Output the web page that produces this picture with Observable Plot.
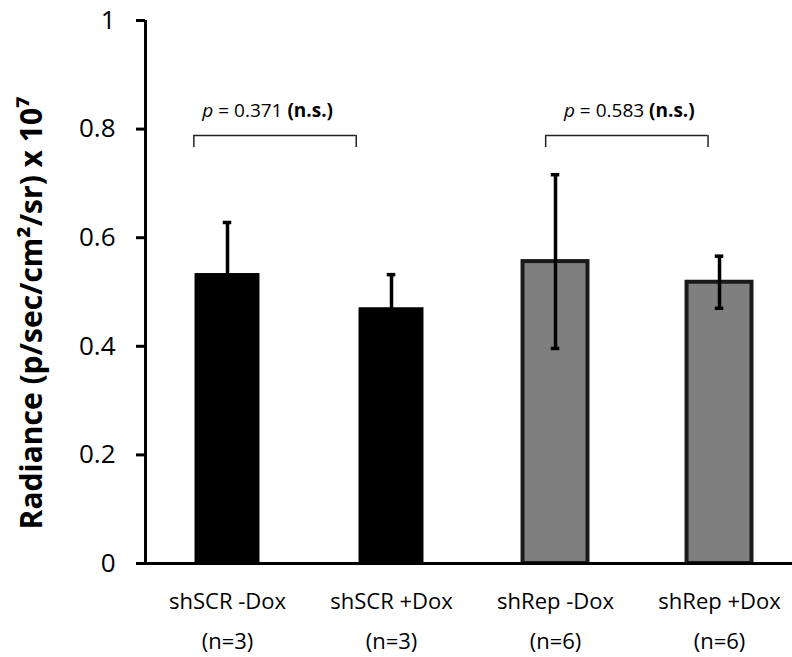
<!DOCTYPE html>
<html><head><meta charset="utf-8">
<script src="https://cdn.jsdelivr.net/npm/d3@7"></script>
<script src="https://cdn.jsdelivr.net/npm/@observablehq/plot@0.6"></script>
<style>body{margin:0;background:#fff}</style>
</head><body><div id="chart"></div>
<script>
// ---- data ----
const groups = ["shSCR -Dox", "shSCR +Dox", "shRep -Dox", "shRep +Dox"];
const sampleSizes = ["(n=3)", "(n=3)", "(n=6)", "(n=6)"];
const means = [0.534, 0.471, 0.556, 0.518];
const errors = [0.094, 0.061, 0.16, 0.048];
const fills = ["#000000", "#000000", "#7f7f7f", "#7f7f7f"];
const yTicks = [0, 0.2, 0.4, 0.6, 0.8, 1];
const pValues = ["0.371", "0.583"];
const significance = ["(n.s.)", "(n.s.)"];
const pairs = [[0, 1], [2, 3]];
const yTitle = "Radiance (p/sec/cm\u00B2/sr) x 10\u2077";

// ---- layout ----
const barHalf = 0.198, capHalf = 0.026;
const bracketEnds = [[-0.205, 0.785], [1.94, 2.93]];
const labelShift = [-0.045, 0.015];
const bracketY = 0.788, bracketDrop = 0.022, labelY = 0.834;

const table = groups.map((g, i) => ({i, g, n: sampleSizes[i], mean: means[i], err: errors[i], fill: fills[i]}));
const comps = pairs.map((p, k) => ({x1: bracketEnds[k][0], x2: bracketEnds[k][1], shift: labelShift[k], p: pValues[k], sig: significance[k]}));

const chart = Plot.plot({
  width: 792, height: 657,
  marginLeft: 145, marginRight: 0, marginTop: 20, marginBottom: 94,
  style: {fontFamily: "'Open Sans', sans-serif", color: "#000", background: "#fff"},
  x: {domain: [-0.5, 3.445]},
  y: {domain: [0, 1]},
  color: {type: "identity"},
  marks: [
    Plot.rectY(table.filter(d => d.fill === "#000000"), {x1: d => d.i - barHalf, x2: d => d.i + barHalf, y1: 0, y2: "mean", fill: "fill"}),
    Plot.rectY(table.filter(d => d.fill !== "#000000"), {x1: d => d.i - barHalf, x2: d => d.i + barHalf, y1: 0, y2: "mean", fill: "fill", stroke: "#1a1a1a", strokeWidth: 4}),
    Plot.ruleX(table, {x: "i", y1: d => d.mean - d.err, y2: d => d.mean + d.err, stroke: "#000", strokeWidth: 3.5}),
    Plot.ruleY(table, {x1: d => d.i - capHalf, x2: d => d.i + capHalf, y: d => d.mean + d.err, stroke: "#000", strokeWidth: 3.5}),
    Plot.ruleY(table, {x1: d => d.i - capHalf, x2: d => d.i + capHalf, y: d => d.mean - d.err, stroke: "#000", strokeWidth: 3.5}),
    // brackets
    Plot.ruleY(comps, {x1: "x1", x2: "x2", y: bracketY, stroke: "#222", strokeWidth: 1.5}),
    Plot.ruleX(comps, {x: "x1", y1: bracketY - bracketDrop, y2: bracketY, stroke: "#222", strokeWidth: 1.5}),
    Plot.ruleX(comps, {x: "x2", y1: bracketY - bracketDrop, y2: bracketY, stroke: "#222", strokeWidth: 1.5}),
    Plot.text(comps, {x: d => (d.x1 + d.x2) / 2 + d.shift, y: labelY, text: d => `p = ${d.p} ${d.sig}`, fontSize: 19, fill: "#000"}),
    // axes
    Plot.axisY({ticks: yTicks, tickSize: 9, tickPadding: 21, strokeWidth: 3, fontSize: 26, label: null, tickFormat: d => String(+d.toFixed(1))}),
    Plot.axisX({ticks: [0, 1, 2, 3], tickSize: 0, tickPadding: 17, tickFormat: i => groups[i] + "\n" + sampleSizes[i], fontSize: 22, lineHeight: 1.82, label: null}),
    Plot.ruleX([-0.5], {y1: 0, y2: 1, stroke: "#000", strokeWidth: 3}),
    Plot.ruleY([0], {stroke: "#000", strokeWidth: 3}),
    Plot.text([yTitle], {frameAnchor: "left", text: d => d, rotate: -90, dx: -113, dy: 21, textAnchor: "middle", fontWeight: "bold", fontSize: 30, fill: "#000"})
  ]
});

// rich text for p-value labels
d3.select(chart).selectAll("text").each(function() {
  const t = this.textContent;
  const m = /^p = (\S+) (.*)$/.exec(t);
  if (!m) return;
  const el = d3.select(this);
  el.text(null);
  el.append("tspan").attr("font-style", "italic").text("p");
  el.append("tspan").text(` = ${m[1]} `);
  el.append("tspan").attr("font-weight", "bold").text(m[2]);
});

document.getElementById("chart").appendChild(chart);
</script>
</body></html>
